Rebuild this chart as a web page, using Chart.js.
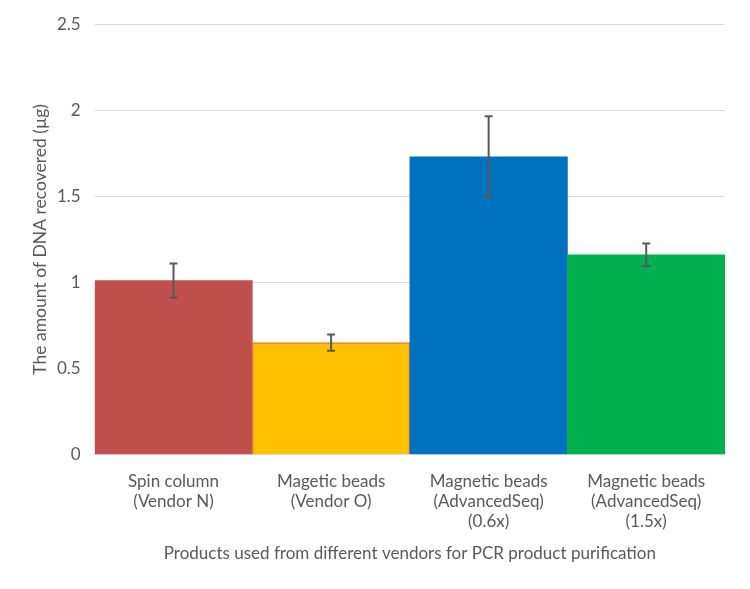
<!DOCTYPE html>
<html>
<head>
<meta charset="utf-8">
<script src="https://cdn.jsdelivr.net/npm/chart.js@4/dist/chart.umd.min.js"></script>
<style>
  html, body { margin: 0; padding: 0; background: #fff; }
  #wrap { width: 750px; height: 589px; }
</style>
</head>
<body>
<div id="wrap"><canvas id="myChart" width="750" height="589"></canvas></div>
<script>
// chart values
const categories = [
    ['Spin column', '(Vendor N)'],
    ['Magetic beads', '(Vendor O)'],
    ['Magnetic beads', '(AdvancedSeq)', '(0.6x)'],
    ['Magnetic beads', '(AdvancedSeq)', '(1.5x)']
];
const amounts = [1.01, 0.65, 1.73, 1.16];
const errors = [0.10, 0.047, 0.235, 0.065];
const barColors = ['#C0504D', '#FFC000', '#0070C0', '#00B050'];
const borderColors = ['#C0504D', '#ED7D31', '#0070C0', '#00B050'];
const yTicks = [0, 0.5, 1, 1.5, 2, 2.5];

const textColor = '#595959';
const fontFamily = 'Lato, "Open Sans", sans-serif';

// draw the error bars on top of the bars
const errorBars = {
    id: 'errorBars',
    afterDatasetsDraw(chart) {
        const ctx = chart.ctx;
        const y = chart.scales.y;
        const meta = chart.getDatasetMeta(0);
        ctx.save();
        ctx.strokeStyle = '#595959';
        ctx.lineWidth = 2;
        meta.data.forEach((bar, i) => {
            const x = bar.x;
            const top = y.getPixelForValue(amounts[i] + errors[i]);
            const bot = y.getPixelForValue(amounts[i] - errors[i]);
            ctx.beginPath();
            ctx.moveTo(x, top);
            ctx.lineTo(x, bot);
            ctx.moveTo(x - 4, top);
            ctx.lineTo(x + 4, top);
            ctx.moveTo(x - 4, bot);
            ctx.lineTo(x + 4, bot);
            ctx.stroke();
        });
        ctx.restore();
    }
};

let ctx = document.getElementById('myChart').getContext('2d');
const data = {
    labels: categories,
    datasets: [{
        data: amounts,
        backgroundColor: barColors,
        borderColor: borderColors,
        borderWidth: [0, 1.5, 0, 0],
        barPercentage: 1,
        categoryPercentage: 1,
    }],
};
const config = {
    type: 'bar',
    data,
    plugins: [errorBars],
    options: {
        responsive: false,
        animation: false,
        layout: { padding: { top: 14, right: 25, left: 30, bottom: 25 } },
        plugins: {
            legend: { display: false },
            tooltip: { enabled: false },
        },
        scales: {
            x: {
                grid: { display: false, drawTicks: false },
                border: { color: '#d9d9d9', width: 1 },
                ticks: {
                    color: textColor,
                    font: { family: fontFamily, size: 17, lineHeight: 1.18 },
                    padding: 17,
                    maxRotation: 0,
                    autoSkip: false,
                },
                title: {
                    display: true,
                    text: 'Products used from different vendors for PCR product purification',
                    color: textColor,
                    font: { family: fontFamily, size: 17 },
                    padding: { top: -5, bottom: 0 },
                },
            },
            y: {
                min: 0,
                max: 2.5,
                afterBuildTicks: (axis) => { axis.ticks = yTicks.map(v => ({ value: v })); },
                grid: { color: '#d9d9d9', lineWidth: 1, drawTicks: false },
                border: { display: false },
                ticks: {
                    color: textColor,
                    font: { family: fontFamily, size: 17 },
                    padding: 14,
                    callback: (v) => String(v),
                },
                title: {
                    display: true,
                    text: 'The amount of DNA recovered (µg)',
                    color: textColor,
                    font: { family: fontFamily, size: 17.5 },
                    padding: { top: 0, bottom: -8 },
                },
            },
        },
    },
};
let chart = new Chart(ctx, config);
</script>
</body>
</html>
